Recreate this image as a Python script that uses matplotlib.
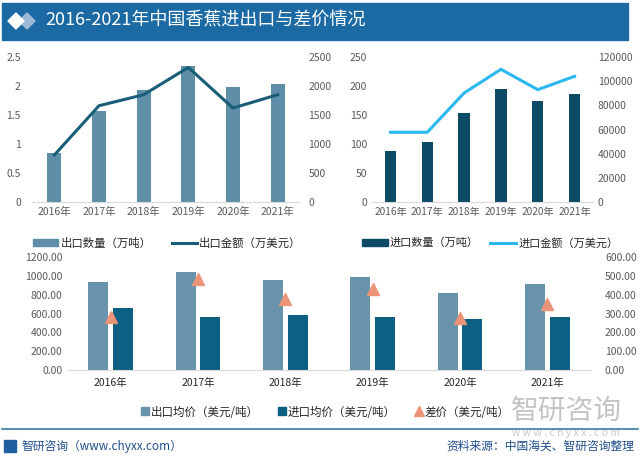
import numpy as np
import matplotlib.pyplot as plt
from matplotlib.patches import Rectangle, Polygon
from matplotlib.lines import Line2D

plt.rcParams["font.family"] = ["Noto Sans CJK SC", "DejaVu Sans"]

# data
years = ["2016年", "2017年", "2018年", "2019年", "2020年", "2021年"]
export_qty = [0.85, 1.57, 1.93, 2.35, 1.98, 2.03]  # 万吨
export_amt = [810, 1660, 1850, 2320, 1620, 1850]  # 万美元
import_qty = [87.5, 103, 153.5, 195, 174, 185.5]  # 万吨
import_amt = [57700, 57700, 90200, 109800, 93000, 104000]  # 万美元
export_price = [935, 1042, 957, 989, 813, 908]  # 美元/吨
import_price = [654, 560, 581, 560, 538, 560]  # 美元/吨
price_gap = [281, 482, 376, 429, 275, 348]  # 美元/吨

c_exp_bar = "#5F8FA8"
c_exp_line = "#1A5D78"
c_imp_bar = "#0C4A66"
c_imp_line = "#2BB7F0"
c_bot_exp = "#6893AB"
c_bot_imp = "#0D5F84"
c_gap = "#EB9478"
tick_c = "#595959"
axis_c = "#D9D9D9"

fig = plt.figure(figsize=(6.4, 4.61), dpi=100)
W, H = 640, 461


def fx(px):
    return px / W


def fy(py):
    return 1 - py / H


def style(ax, right=None):
    for s in ["top", "left", "right"]:
        ax.spines[s].set_visible(False)
    ax.spines["bottom"].set_color(axis_c)
    ax.tick_params(length=0, labelsize=7.5, labelcolor=tick_c)
    if right is not None:
        for s in ["top", "left", "right", "bottom"]:
            right.spines[s].set_visible(False)
        right.tick_params(length=0, labelsize=7.5, labelcolor=tick_c)


# title band
fig.patches.append(Rectangle((fx(2), fy(40)), fx(626), 37 / H, transform=fig.transFigure,
                             color="#1C6AA4", zorder=0))
for cx, col in [(27, "#9DBBD6"), (16, "white")]:
    cy = 21
    pts = [(fx(cx - 8), fy(cy)), (fx(cx), fy(cy - 8)), (fx(cx + 8), fy(cy)), (fx(cx), fy(cy + 8))]
    fig.patches.append(Polygon(pts, closed=True, transform=fig.transFigure, color=col, zorder=1))
fig.text(fx(45), fy(21), "2016-2021年中国香蕉进出口与差价情况", color="white", fontsize=13,
         fontweight="medium", va="center", ha="left")

x = np.arange(len(years))

# top-left: exports
ax1 = fig.add_axes([fx(32), fy(202), fx(268), 145 / H])
ax1r = ax1.twinx()
ax1.bar(x, export_qty, width=0.32, color=c_exp_bar)
ax1r.plot(x, export_amt, color=c_exp_line, lw=2.2)
ax1.set_ylim(0, 2.5)
ax1.set_yticks([0, 0.5, 1, 1.5, 2, 2.5])
ax1.set_yticklabels(["0", "0.5", "1", "1.5", "2", "2.5"])
ax1r.set_ylim(0, 2500)
ax1r.set_yticks(range(0, 2501, 500))
ax1.set_xlim(-0.5, 5.5)
ax1.set_xticks(x)
ax1.set_xticklabels(years)
style(ax1, ax1r)
ax1.tick_params(axis="y", pad=8)
ax1r.tick_params(axis="y", pad=6)
h1 = [Rectangle((0, 0), 1, 1, color=c_exp_bar), Line2D([], [], color=c_exp_line, lw=2.2)]
fig.legend(h1, ["出口数量（万吨）", "出口金额（万美元）"], loc="center left",
           bbox_to_anchor=(fx(33), fy(243)), ncol=2, frameon=False, fontsize=8.2,
           handlelength=2.2, handleheight=0.6, columnspacing=1.8, handletextpad=0.2,
           labelcolor="#262626", borderaxespad=0, borderpad=0)

# top-right: imports
ax2 = fig.add_axes([fx(372), fy(202), fx(221), 145 / H])
ax2r = ax2.twinx()
ax2.bar(x, import_qty, width=0.31, color=c_imp_bar)
ax2r.plot(x, import_amt, color=c_imp_line, lw=2.2)
ax2.set_ylim(0, 250)
ax2.set_yticks(range(0, 251, 50))
ax2r.set_ylim(0, 120000)
ax2r.set_yticks(range(0, 120001, 20000))
ax2.set_xlim(-0.5, 5.5)
ax2.set_xticks(x)
ax2.set_xticklabels(years)
style(ax2, ax2r)
ax2.tick_params(axis="x", labelsize=7.3)
h2 = [Rectangle((0, 0), 1, 1, color=c_imp_bar), Line2D([], [], color=c_imp_line, lw=2.2)]
fig.legend(h2, ["进口数量（万吨）", "进口金额（万美元）"], loc="center left",
           bbox_to_anchor=(fx(362), fy(243)), ncol=2, frameon=False, fontsize=8,
           handlelength=2.3, handleheight=0.6, columnspacing=1.05, handletextpad=0.2,
           labelcolor="#262626", borderaxespad=0, borderpad=0)

# bottom: prices
ax3 = fig.add_axes([fx(67), fy(370), fx(524), 113 / H])
ax3r = ax3.twinx()
bw = 0.23
ax3.bar(x - 0.14, export_price, width=bw, color=c_bot_exp, zorder=2)
ax3.bar(x + 0.14, import_price, width=bw, color=c_bot_imp, zorder=2)
ax3r.plot(x, price_gap, ls="none", marker="^", ms=8, color=c_gap, zorder=3)
ax3.set_ylim(0, 1200)
ax3.set_yticks(range(0, 1201, 200))
ax3.set_yticklabels([f"{v:.2f}" for v in range(0, 1201, 200)])
ax3r.set_ylim(0, 600)
ax3r.set_yticks(range(0, 601, 100))
ax3r.set_yticklabels([f"{v:.2f}" for v in range(0, 601, 100)])
ax3.set_xlim(-0.5, 5.5)
ax3.set_xticks(x)
ax3.set_xticklabels(years)
style(ax3, ax3r)
ax3.tick_params(axis="x", pad=6, labelcolor="#262626")
ax3r.tick_params(axis="y", pad=10)
h3 = [Line2D([], [], ls="none", marker="s", ms=6, color=c_bot_exp),
      Line2D([], [], ls="none", marker="s", ms=6, color=c_bot_imp),
      Line2D([], [], ls="none", marker="^", ms=7, color=c_gap)]
fig.legend(h3, ["出口均价（美元/吨）", "进口均价（美元/吨）", "差价（美元/吨）"], loc="center",
           bbox_to_anchor=(fx(325), fy(412)), ncol=3, frameon=False, fontsize=8.3,
           handlelength=0.8, columnspacing=1.6, handletextpad=0.1, labelcolor="#262626")

# watermark at bottom right
fig.text(fx(622), fy(411), "智研咨询", color="#C4C4C4", fontsize=20, ha="right", va="center",
         zorder=0)
fig.text(fx(620), fy(433), "w w w . c h y x x . c o m", color="#C9C9C9", fontsize=7.5,
         ha="right", va="center", zorder=0)

# footer
fig.add_artist(Line2D([fx(2), fx(638)], [fy(429), fy(429)], color="#3C78A8", lw=1.2))
fig.patches.append(Rectangle((fx(4), fy(452)), fx(12), 12 / H, transform=fig.transFigure,
                             color="#1F5FA0"))
fig.text(fx(21), fy(446), "智研咨询（www.chyxx.com）", color="#1F4E8C", fontsize=8.5,
         ha="left", va="center")
fig.text(fx(634), fy(446), "资料来源：中国海关、智研咨询整理", color="#1F4E8C", fontsize=8.5,
         ha="right", va="center")

fig.savefig("out.png", dpi=100)
